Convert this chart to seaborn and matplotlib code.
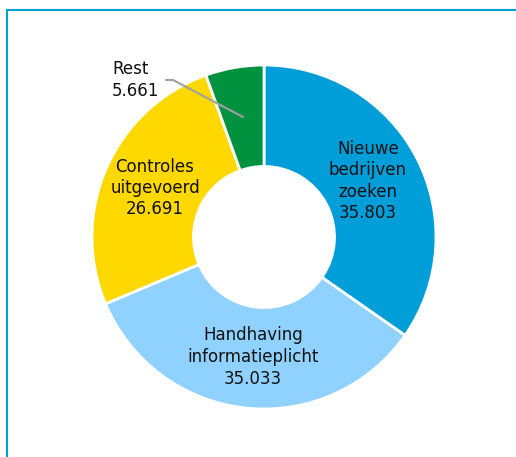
import numpy as np
import matplotlib.pyplot as plt
import seaborn as sns
from matplotlib.lines import Line2D

categories = ['Nieuwe\nbedrijven\nzoeken', 'Handhaving\ninformatieplicht', 'Controles\nuitgevoerd', 'Rest']
values = [35803, 35033, 26691, 5661]
value_labels = ['35.803', '35.033', '26.691', '5.661']
colors = ['#009ED9', '#8FD2FF', '#FFD800', '#00923F']

sns.set_theme(style='white')
plt.rcParams['font.family'] = ['DejaVu Sans']

W, H = 516, 457
fig = plt.figure(figsize=(W / 100, H / 100), dpi=100)

# pie centre and radius in pixels
cx, cy, R = 264, 237, 172
half = 190
ax = fig.add_axes([(cx - half) / W, (H - cy - half) / H, 2 * half / W, 2 * half / H])

ax.pie(values, colors=colors, startangle=90, counterclock=False, radius=1,
       wedgeprops=dict(width=0.59, edgecolor='white', linewidth=2))
lim = half / R
ax.set_xlim(-lim, lim)
ax.set_ylim(-lim, lim)
ax.set_aspect('equal')
ax.axis('off')

def px(x, y):
    return (x - cx) / R, (cy - y) / R

label_pos = [(368, 181), (253, 357), (155, 188)]
for cat, val, (x, y) in zip(categories[:3], value_labels[:3], label_pos):
    ax.text(*px(x, y), cat + '\n' + val, ha='center', va='center',
            fontsize=12, color='#111111', linespacing=1.25)

# Rest label with leader line
ax.text(*px(112, 80), categories[3] + '\n' + value_labels[3], ha='left', va='center',
        fontsize=12, color='#111111', linespacing=1.25)
lx, ly = zip(px(166, 80), px(173, 80), px(243, 117))
ax.plot(lx, ly, color='#A0A0A0', linewidth=1.5)

# frame lines
fig.add_artist(Line2D([7 / W, 7 / W], [0, 1 - 10 / H], color='#009ED9', linewidth=1.5))
fig.add_artist(Line2D([7 / W, 1], [1 - 10 / H, 1 - 10 / H], color='#009ED9', linewidth=1.5))

fig.savefig('out.png', dpi=100)
